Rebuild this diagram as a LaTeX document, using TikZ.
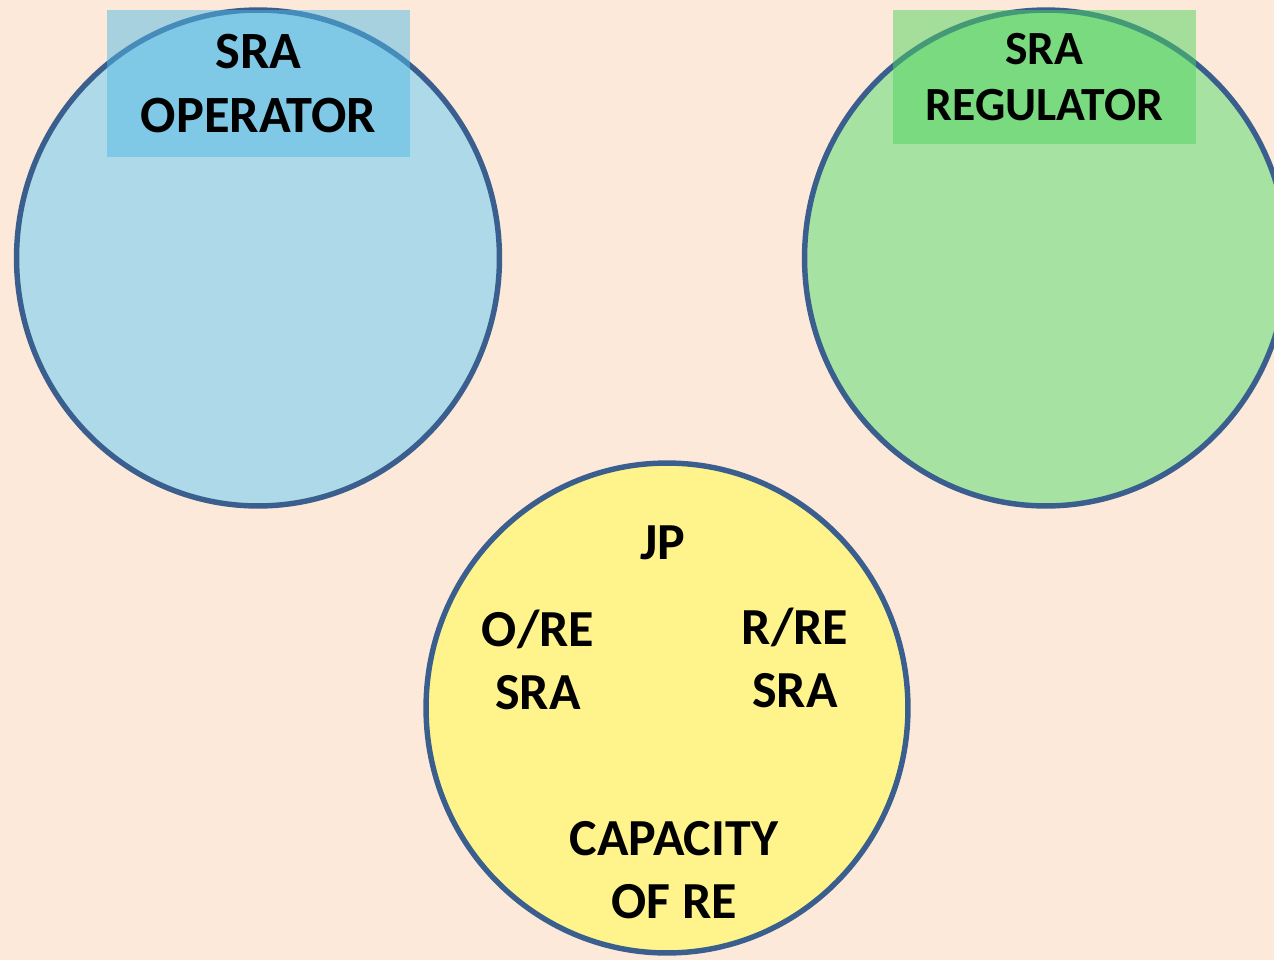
\documentclass[tikz,border=0pt]{standalone}
\usepackage{fontspec}
\setmainfont{Carlito}
\usetikzlibrary{shapes.geometric}
\definecolor{peach}{HTML}{FDE9D9}
\definecolor{ringline}{HTML}{3A5F8F}
\definecolor{opfill}{HTML}{ADD9E8}
\definecolor{optag}{HTML}{53BAE6}
\definecolor{regfill}{HTML}{A6E3A2}
\definecolor{regtag}{HTML}{4ED35E}
\definecolor{jpfill}{HTML}{FFF38C}

\begin{document}
\begin{tikzpicture}[x=0.02cm, y=-0.02cm,
    ring/.style={ellipse, draw=ringline, line width=3.1pt, inner sep=0pt, minimum width=9.66cm, minimum height=9.92cm},
    tag/.style={rectangle, inner sep=0pt, fill opacity=0.5, text opacity=1, minimum width=6.06cm, align=center},
    lbl/.style={align=center, inner sep=0pt, font=\bfseries\fontsize{29.6}{35.7}\selectfont}
]
    \useasboundingbox (0,0) rectangle (1274,960);
    \clip (0,0) rectangle (1274,960);
    \fill[peach] (0,0) rectangle (1274,960);

    % the three circles
    \node[ring, fill=opfill] (operator) at (258,258) {};
    \node[ring, fill=regfill] (regulator) at (1046,258) {};
    \node[ring, fill=jpfill, minimum width=9.64cm, minimum height=9.8cm] (jp) at (667,708) {};

    % headings of the top circles
    \node[tag, fill=optag, minimum height=2.94cm, font=\bfseries\fontsize{29.8}{36.8}\selectfont] (optitle) at (258.5,83.5) {SRA\\OPERATOR};
    \node[tag, fill=regtag, minimum height=2.68cm, font=\bfseries\fontsize{27.1}{32.3}\selectfont] (regtitle) at (1044.5,77) {SRA\\REGULATOR};

    % texts in the lower circle
    \node[lbl] (jptext) at (663,543) {JP};
    \node[lbl] (orsra) at (538,660) {O/RE\\SRA};
    \node[lbl] (rrsra) at (795,658) {R/RE\\SRA};
    \node[lbl] (capre) at (674,870) {CAPACITY\\OF RE};
\end{tikzpicture}
\end{document}
